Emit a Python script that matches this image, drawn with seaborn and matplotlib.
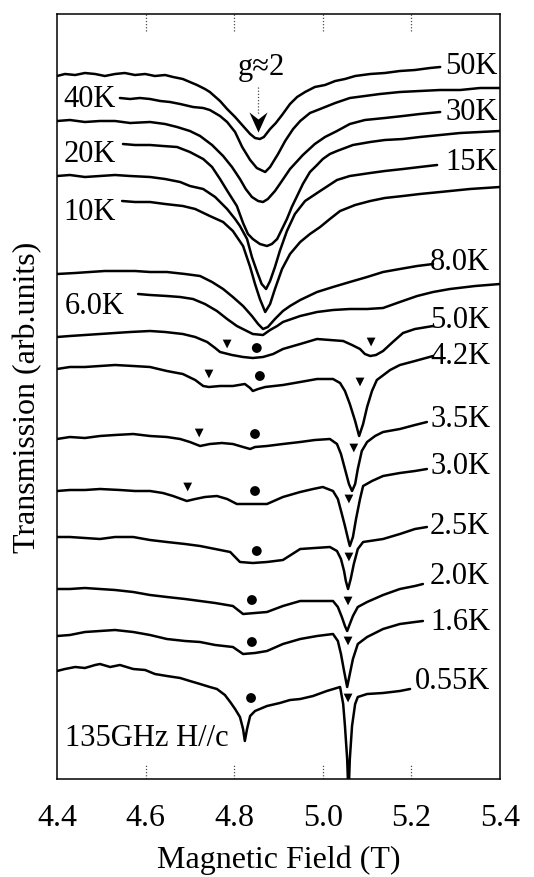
import numpy as np
import pandas as pd
import seaborn as sns
import matplotlib.pyplot as plt
from matplotlib.path import Path

# ESR transmission spectra, 135 GHz, H//c  (field in T, transmission in arb. units incl. offset)
spec_50K = [(4.400, 70.3), (4.418, 70.5), (4.441, 70.4), (4.463, 70.6), (4.486, 70.5), (4.508, 70.3),
            (4.531, 70.5), (4.553, 70.6), (4.576, 70.4), (4.599, 70.5), (4.621, 70.3), (4.644, 70.4),
            (4.662, 70.2), (4.684, 70.0), (4.700, 69.7), (4.716, 69.4), (4.734, 69.0), (4.745, 68.7),
            (4.768, 67.8), (4.784, 67.0), (4.802, 66.2), (4.820, 65.3), (4.836, 64.5), (4.847, 64.1),
            (4.858, 64.0), (4.867, 64.2), (4.881, 65.0), (4.894, 65.6), (4.908, 66.4), (4.926, 67.5),
            (4.942, 68.2), (4.960, 68.7), (4.982, 69.2), (5.005, 69.4), (5.028, 69.8), (5.050, 70.0),
            (5.073, 70.3), (5.107, 70.5), (5.140, 70.6), (5.174, 70.8), (5.208, 70.9), (5.242, 71.1),
            (5.265, 71.2)]
spec_40K = [(4.542, 68.1), (4.565, 68.0), (4.587, 68.1), (4.610, 68.0), (4.633, 67.8), (4.655, 67.7),
            (4.678, 67.5), (4.707, 67.2), (4.730, 67.1), (4.745, 66.9), (4.768, 66.3), (4.784, 65.7),
            (4.802, 64.7), (4.818, 63.2), (4.836, 61.9), (4.851, 61.1), (4.870, 60.7), (4.881, 61.2),
            (4.899, 62.5), (4.915, 63.8), (4.933, 65.0), (4.949, 65.8), (4.971, 66.6), (4.994, 67.0),
            (5.028, 67.6), (5.061, 68.1), (5.095, 68.3), (5.129, 68.5), (5.174, 68.7), (5.219, 68.8),
            (5.265, 68.9), (5.310, 68.9), (5.355, 69.1), (5.400, 69.1)]
spec_30K = [(4.400, 65.8), (4.429, 65.9), (4.463, 65.7), (4.497, 65.8), (4.531, 65.8), (4.565, 65.6),
            (4.610, 65.7), (4.644, 65.5), (4.671, 65.2), (4.700, 64.8), (4.723, 64.3), (4.750, 63.4),
            (4.775, 62.3), (4.795, 61.2), (4.813, 60.0), (4.826, 59.0), (4.840, 58.2), (4.854, 57.8),
            (4.865, 57.7), (4.876, 58.0), (4.892, 58.8), (4.903, 59.5), (4.926, 61.0), (4.955, 62.4),
            (4.982, 63.5), (5.005, 64.2), (5.032, 64.8), (5.061, 65.5), (5.095, 65.9), (5.140, 66.1),
            (5.181, 66.3), (5.219, 66.5), (5.265, 66.7)]
spec_20K = [(4.549, 63.5), (4.576, 63.4), (4.610, 63.4), (4.639, 63.3), (4.671, 63.2), (4.700, 62.7),
            (4.730, 62.0), (4.750, 61.2), (4.768, 60.0), (4.786, 58.7), (4.806, 57.3), (4.820, 55.6),
            (4.831, 54.5), (4.842, 54.0), (4.858, 53.5), (4.874, 53.3), (4.885, 53.5), (4.897, 54.0),
            (4.908, 55.0), (4.919, 56.0), (4.930, 57.2), (4.942, 58.3), (4.955, 59.5), (4.971, 60.7),
            (4.987, 61.4), (5.000, 62.0), (5.016, 62.5), (5.032, 62.8), (5.068, 63.4), (5.107, 63.7),
            (5.140, 63.9), (5.181, 64.0), (5.219, 64.2), (5.265, 64.4), (5.310, 64.6), (5.355, 64.7),
            (5.400, 64.8)]
spec_15K = [(4.400, 60.3), (4.429, 60.4), (4.463, 60.2), (4.497, 60.3), (4.531, 60.4), (4.565, 60.3),
            (4.610, 60.2), (4.644, 60.0), (4.678, 59.7), (4.700, 59.3), (4.730, 59.0), (4.757, 58.2),
            (4.784, 57.0), (4.802, 56.0), (4.813, 55.3), (4.829, 54.0), (4.840, 52.2), (4.851, 50.8),
            (4.862, 49.5), (4.872, 49.0), (4.881, 49.8), (4.892, 51.2), (4.903, 52.8), (4.919, 54.8),
            (4.937, 56.5), (4.960, 57.8), (4.994, 58.8), (5.032, 59.9), (5.061, 60.3), (5.107, 60.6),
            (5.140, 60.8), (5.181, 61.0), (5.219, 61.2), (5.258, 61.4)]
spec_10K = [(4.547, 57.8), (4.576, 57.7), (4.610, 57.7), (4.644, 57.5), (4.684, 57.3), (4.712, 57.0),
            (4.745, 56.3), (4.775, 55.7), (4.797, 54.8), (4.820, 53.3), (4.836, 51.2), (4.847, 49.5),
            (4.858, 48.0), (4.870, 46.7), (4.881, 47.5), (4.892, 49.0), (4.908, 51.0), (4.926, 52.5),
            (4.949, 53.7), (4.971, 54.5), (4.994, 55.2), (5.016, 56.0), (5.039, 56.8), (5.073, 57.4),
            (5.107, 57.8), (5.140, 58.1), (5.181, 58.3), (5.219, 58.5), (5.265, 58.7), (5.332, 59.0),
            (5.400, 59.2)]
spec_8K = [(4.400, 50.5), (4.441, 50.6), (4.474, 50.7), (4.508, 50.8), (4.535, 50.8), (4.576, 50.8),
           (4.610, 50.7), (4.648, 50.7), (4.689, 50.5), (4.723, 50.3), (4.750, 49.7), (4.775, 49.0),
           (4.797, 48.2), (4.820, 47.3), (4.840, 46.3), (4.854, 45.5), (4.865, 45.0), (4.876, 45.2),
           (4.892, 46.0), (4.910, 46.8), (4.926, 47.3), (4.949, 47.9), (4.987, 48.7), (5.023, 49.2),
           (5.061, 49.7), (5.100, 50.2), (5.136, 50.7), (5.174, 51.0), (5.213, 51.3), (5.249, 51.5)]
spec_6K = [(4.583, 48.5), (4.610, 48.4), (4.648, 48.3), (4.678, 48.2), (4.707, 48.0), (4.734, 47.5),
           (4.761, 46.8), (4.784, 46.0), (4.806, 45.3), (4.824, 44.9), (4.842, 44.5), (4.865, 44.4),
           (4.881, 44.9), (4.897, 45.3), (4.910, 45.7), (4.949, 46.3), (4.987, 46.7), (5.023, 46.9),
           (5.061, 47.0), (5.100, 47.0), (5.136, 47.1), (5.174, 47.7), (5.213, 48.3), (5.249, 48.7),
           (5.287, 49.0), (5.344, 49.3), (5.400, 49.5)]
spec_5K = [(4.400, 44.2), (4.429, 44.3), (4.463, 44.4), (4.497, 44.5), (4.531, 44.6), (4.565, 44.7),
           (4.610, 44.8), (4.644, 44.7), (4.684, 44.5), (4.712, 44.2), (4.739, 43.7), (4.757, 43.1),
           (4.768, 42.7), (4.795, 42.4), (4.820, 42.2), (4.842, 42.1), (4.865, 42.2), (4.888, 42.5),
           (4.910, 43.0), (4.949, 43.5), (4.987, 44.0), (5.016, 43.9), (5.046, 43.8), (5.066, 43.4),
           (5.084, 43.0), (5.095, 42.5), (5.107, 42.3), (5.120, 42.4), (5.136, 42.8), (5.158, 43.7),
           (5.181, 44.6), (5.208, 45.0), (5.249, 45.3)]
spec_4p2K = [(4.400, 41.0), (4.429, 41.2), (4.463, 41.2), (4.497, 41.3), (4.531, 41.4), (4.572, 41.3),
             (4.610, 41.2), (4.648, 40.8), (4.684, 40.5), (4.712, 39.9), (4.730, 39.3), (4.743, 39.2),
             (4.768, 39.3), (4.797, 39.3), (4.824, 39.5), (4.836, 39.1), (4.842, 38.8), (4.854, 39.0),
             (4.870, 39.2), (4.910, 39.4), (4.949, 39.7), (4.987, 40.0), (5.023, 40.0), (5.039, 39.6),
             (5.050, 38.8), (5.061, 37.5), (5.073, 35.8), (5.082, 34.3), (5.091, 35.5), (5.100, 37.2),
             (5.111, 38.8), (5.122, 39.9), (5.152, 40.9), (5.174, 41.4), (5.208, 41.8), (5.249, 42.3)]
spec_3p5K = [(4.400, 34.0), (4.429, 34.2), (4.463, 34.1), (4.497, 34.3), (4.531, 34.4), (4.572, 34.5),
             (4.610, 34.3), (4.648, 34.2), (4.678, 34.0), (4.700, 33.7), (4.723, 33.3), (4.745, 33.5),
             (4.772, 33.6), (4.797, 33.5), (4.820, 33.2), (4.836, 33.0), (4.847, 33.2), (4.874, 33.3),
             (4.910, 33.5), (4.949, 33.7), (4.982, 33.9), (5.016, 34.0), (5.032, 33.5), (5.041, 32.5),
             (5.050, 31.0), (5.059, 29.5), (5.066, 28.8), (5.073, 29.5), (5.079, 31.0), (5.088, 32.8),
             (5.100, 33.7), (5.118, 34.3), (5.136, 34.7), (5.174, 35.0), (5.208, 35.4), (5.235, 35.7)]
spec_3p0K = [(4.400, 28.8), (4.429, 28.9), (4.463, 28.9), (4.497, 29.0), (4.542, 28.9), (4.576, 28.8),
             (4.610, 28.8), (4.639, 28.6), (4.662, 28.3), (4.693, 27.8), (4.712, 28.0), (4.734, 28.2),
             (4.761, 28.3), (4.784, 28.0), (4.806, 27.5), (4.836, 27.5), (4.874, 27.5), (4.910, 28.2),
             (4.949, 28.7), (4.978, 29.0), (5.000, 29.2), (5.023, 28.8), (5.034, 28.0), (5.043, 26.5),
             (5.050, 25.3), (5.057, 24.0), (5.061, 23.3), (5.068, 24.2), (5.075, 26.0), (5.084, 28.0),
             (5.091, 29.3), (5.111, 29.8), (5.136, 30.3), (5.174, 30.6), (5.208, 30.8), (5.235, 31.0)]
spec_2p5K = [(4.400, 24.2), (4.429, 24.2), (4.463, 24.1), (4.497, 24.0), (4.531, 24.2), (4.572, 24.2),
             (4.610, 23.9), (4.648, 23.7), (4.689, 23.5), (4.723, 23.3), (4.757, 23.0), (4.791, 22.7),
             (4.813, 21.7), (4.842, 21.6), (4.874, 21.7), (4.910, 21.9), (4.949, 23.0), (4.982, 23.1),
             (5.016, 23.2), (5.032, 22.8), (5.041, 22.0), (5.048, 20.8), (5.052, 19.8), (5.057, 19.0),
             (5.063, 20.0), (5.070, 21.5), (5.079, 23.0), (5.091, 23.7), (5.136, 24.0), (5.174, 24.5),
             (5.208, 25.0), (5.235, 25.2)]
spec_2p0K = [(4.400, 19.0), (4.429, 19.0), (4.463, 19.1), (4.497, 19.0), (4.531, 18.9), (4.572, 18.7),
             (4.610, 18.4), (4.648, 18.2), (4.689, 18.0), (4.723, 17.8), (4.757, 17.6), (4.797, 17.3),
             (4.820, 16.5), (4.847, 16.6), (4.874, 16.7), (4.910, 17.3), (4.949, 17.8), (4.987, 17.8),
             (5.023, 17.8), (5.034, 17.2), (5.043, 16.2), (5.050, 15.3), (5.055, 14.8), (5.061, 15.5),
             (5.068, 16.3), (5.079, 17.2), (5.100, 17.7), (5.136, 18.4), (5.174, 19.0), (5.208, 19.3),
             (5.226, 19.5)]
spec_1p6K = [(4.400, 14.3), (4.429, 14.4), (4.463, 14.7), (4.497, 14.8), (4.531, 14.9), (4.572, 14.7),
             (4.610, 14.4), (4.648, 14.0), (4.689, 13.8), (4.723, 13.7), (4.757, 13.4), (4.797, 13.2),
             (4.820, 12.5), (4.847, 12.6), (4.874, 12.8), (4.910, 13.5), (4.949, 14.0), (4.987, 14.3),
             (5.023, 14.5), (5.034, 13.8), (5.041, 12.5), (5.048, 10.8), (5.055, 9.2), (5.061, 10.5),
             (5.068, 12.0), (5.079, 13.5), (5.100, 14.2), (5.136, 15.0), (5.174, 15.5), (5.208, 15.7),
             (5.226, 15.8)]
spec_0p55K = [(4.400, 10.8), (4.418, 11.0), (4.441, 11.2), (4.463, 11.1), (4.486, 11.4), (4.497, 11.5),
              (4.520, 11.2), (4.542, 11.4), (4.572, 11.0), (4.599, 10.9), (4.621, 10.5), (4.648, 10.3),
              (4.678, 10.1), (4.700, 9.8), (4.723, 9.5), (4.745, 9.2), (4.761, 9.0), (4.779, 8.4),
              (4.791, 7.7), (4.802, 7.0), (4.813, 6.2), (4.820, 5.0), (4.824, 3.8), (4.829, 5.0),
              (4.836, 6.3), (4.847, 6.8), (4.874, 7.3), (4.903, 7.6), (4.926, 7.9), (4.949, 8.0),
              (4.978, 8.3), (5.009, 8.8), (5.039, 9.2), (5.046, 7.5), (5.050, 5.3), (5.055, 2.0),
              (5.057, -0.5), (5.059, -0.5), (5.061, 2.0), (5.066, 5.3), (5.073, 7.5), (5.079, 8.2),
              (5.100, 8.5), (5.136, 8.6), (5.174, 8.8), (5.197, 9.0)]

temps = ["50K", "40K", "30K", "20K", "15K", "10K", "8.0K", "6.0K",
         "5.0K", "4.2K", "3.5K", "3.0K", "2.5K", "2.0K", "1.6K", "0.55K"]
spectra = [spec_50K, spec_40K, spec_30K, spec_20K, spec_15K, spec_10K, spec_8K, spec_6K,
           spec_5K, spec_4p2K, spec_3p5K, spec_3p0K, spec_2p5K, spec_2p0K, spec_1p6K, spec_0p55K]

# resonance markers (field, transmission)
tri_field = [4.784, 5.109, 4.743, 5.084, 4.721, 5.070, 4.695, 5.059, 5.059, 5.057, 5.057, 5.057]
tri_trans = [43.5, 43.7, 40.5, 39.7, 34.6, 33.1, 29.2, 28.0, 22.2, 17.8, 13.8, 8.1]
dot_field = [4.851, 4.858, 4.847, 4.847, 4.851, 4.840, 4.840, 4.838]
dot_trans = [43.1, 40.3, 34.5, 28.8, 22.8, 17.9, 13.7, 8.1]

x_ticks = [4.4, 4.6, 4.8, 5.0, 5.2, 5.4]
x_tick_labels = ["4.4", "4.6", "4.8", "5.0", "5.2", "5.4"]

# label placement (x, y)
label_pos = [(5.276, 71.3), (4.414, 68.1), (5.276, 66.7), (4.414, 62.5),
             (5.276, 61.7), (4.414, 56.7), (5.242, 51.8), (4.418, 47.3),
             (5.242, 46.0), (5.242, 42.4), (5.242, 36.0), (5.242, 31.3),
             (5.242, 25.4), (5.242, 20.3), (5.242, 15.8), (5.208, 9.8)]


def main():
    sns.set_theme(style="white")
    plt.rcParams["font.family"] = ["Liberation Serif", "DejaVu Serif"]
    plt.rcParams["text.color"] = "black"
    plt.rcParams["axes.labelcolor"] = "black"
    plt.rcParams["xtick.color"] = "black"

    rows = []
    for t, spec in zip(temps, spectra):
        for f, v in spec:
            rows.append((t, f, v))
    df = pd.DataFrame(rows, columns=["temp", "field", "trans"])

    fig = plt.figure(figsize=(5.34, 8.78), dpi=100)
    ax = fig.add_axes([57 / 534, 98 / 878, 443 / 534, 765 / 878])

    sns.lineplot(data=df, x="field", y="trans", units="temp", estimator=None, sort=False,
                 color="black", lw=1.8, ax=ax, legend=False)
    sns.scatterplot(x=tri_field, y=tri_trans, marker="v", s=40, color="black",
                    edgecolor="none", ax=ax, zorder=3)
    sns.scatterplot(x=dot_field, y=dot_trans, marker="o", s=50, color="black",
                    edgecolor="none", ax=ax, zorder=3)

    for t, (x, y) in zip(temps, label_pos):
        ax.text(x, y, t, fontsize=22, va="center", ha="left", color="black")

    ax.text(4.418, 4.1, "135GHz H//c", fontsize=22, va="center", ha="left")
    ax.text(4.861, 71.3, "g\u22482", fontsize=22, va="center", ha="center")

    # g=2 arrow: dotted shaft + concave arrowhead
    ax.plot([4.854, 4.854], [69.2, 66.4], ls=(0, (1, 1.5)), lw=0.9, color="0.3")
    head = Path([(0, -0.5), (-0.45, 0.5), (0, 0.15), (0.45, 0.5), (0, -0.5)],
                [Path.MOVETO, Path.LINETO, Path.LINETO, Path.LINETO, Path.CLOSEPOLY])
    ax.plot([4.854], [65.7], marker=head, ms=14.5, color="black", mew=0)

    ax.set_xlim(4.4, 5.4)
    ax.set_ylim(0, 76.5)
    ax.set_xticks(x_ticks)
    ax.set_xticklabels(x_tick_labels)
    ax.set_yticks([])
    ax.tick_params(axis="x", length=0, pad=17, labelsize=23)

    # dotted inner tick marks
    for t in x_ticks[1:-1]:
        ax.plot([t, t], [0, 0.018], transform=ax.get_xaxis_transform(),
                ls=(0, (1, 1.5)), lw=0.9, color="0.3")
        ax.plot([t, t], [0.978, 1], transform=ax.get_xaxis_transform(),
                ls=(0, (1, 1.5)), lw=0.9, color="0.3")

    for sp in ax.spines.values():
        sp.set_color("black")
        sp.set_linewidth(1.1)

    ax.set_xlabel("Magnetic Field (T)", fontsize=23, labelpad=9)
    ax.set_ylabel("Transmission (arb.units)", fontsize=23, labelpad=11)

    fig.savefig("out.png", dpi=100)


if __name__ == "__main__":
    main()
